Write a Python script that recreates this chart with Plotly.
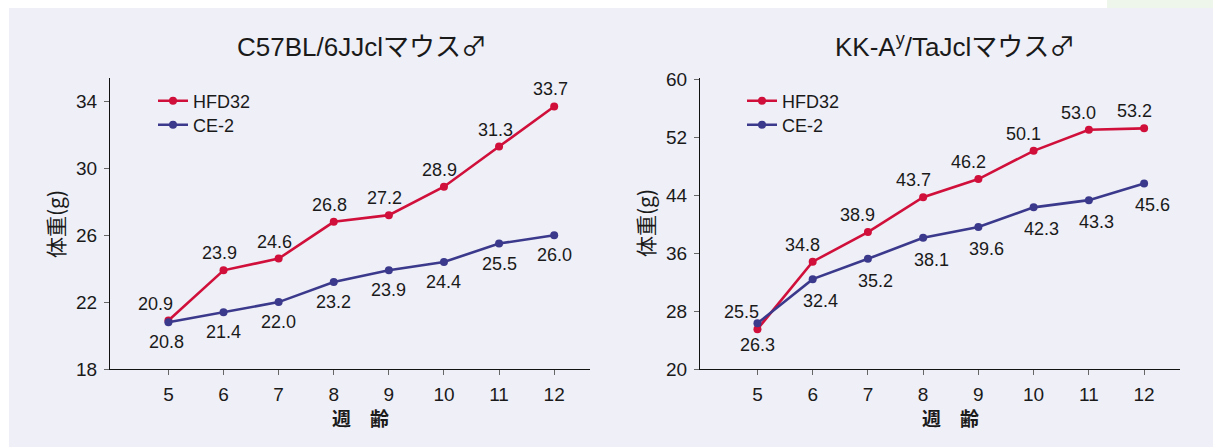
import plotly.graph_objects as go

W, H = 1213, 447

weeks = [5, 6, 7, 8, 9, 10, 11, 12]
week_ticks = ["5", "6", "7", "8", "9", "10", "11", "12"]

# C57BL/6JJcl
b6_hfd32 = [20.9, 23.9, 24.6, 26.8, 27.2, 28.9, 31.3, 33.7]
b6_ce2 = [20.8, 21.4, 22.0, 23.2, 23.9, 24.4, 25.5, 26.0]
# KK-Ay/TaJcl
kk_hfd32 = [25.5, 34.8, 38.9, 43.7, 46.2, 50.1, 53.0, 53.2]
kk_ce2 = [26.3, 32.4, 35.2, 38.1, 39.6, 42.3, 43.3, 45.6]

left_yticks = [18, 22, 26, 30, 34]
right_yticks = [20, 28, 36, 44, 52, 60]

RED = "#d0103a"
BLUE = "#3b398c"
BG = "#efeff7"
TXT = "#1a1a1a"
NUM_FONT = "Liberation Sans, Arial, sans-serif"
CJK_FONT = "Noto Sans CJK JP, Noto Sans, sans-serif"
TITLE_FONT = "Liberation Sans, Noto Sans CJK JP, sans-serif"
MALE = '<span style="font-family:Noto Sans CJK JP">♂</span>'


def px(x):
    return x / W


def py(y):
    return 1 - y / H


fig = go.Figure()

panels = [("x", "y", b6_hfd32, b6_ce2, "legend", "legend2"),
          ("x2", "y2", kk_hfd32, kk_ce2, "legend3", "legend4")]
for xa, ya, hfd, ce, leg_a, leg_b in panels:
    fig.add_trace(go.Scatter(x=weeks, y=hfd, name="HFD32", mode="lines+markers",
                             line=dict(color=RED, width=2.6), marker=dict(color=RED, size=8),
                             xaxis=xa, yaxis=ya, legend=leg_a, hoverinfo="skip"))
    fig.add_trace(go.Scatter(x=weeks, y=ce, name="CE-2", mode="lines+markers",
                             line=dict(color=BLUE, width=2.6), marker=dict(color=BLUE, size=8),
                             xaxis=xa, yaxis=ya, legend=leg_b, hoverinfo="skip"))

annotations = []


def add_labels(xref, yref, vals, yshift, xshift, first_xshift):
    for i, (w, v) in enumerate(zip(weeks, vals)):
        annotations.append(dict(x=w, y=v, xref=xref, yref=yref, text=f"{v:.1f}",
                                showarrow=False, yshift=yshift, xanchor="center",
                                xshift=first_xshift if i == 0 else xshift,
                                font=dict(family=NUM_FONT, size=18, color=TXT)))


add_labels("x", "y", b6_hfd32, 17, -4, -13)
add_labels("x", "y", b6_ce2, -20, 0, -2)
add_labels("x2", "y2", kk_hfd32, 17, -10, -16)
add_labels("x2", "y2", kk_ce2, -22, 8, 0)

# titles
annotations += [
    dict(x=px(362), y=py(45), xref="paper", yref="paper", text="C57BL/6JJclマウス" + MALE,
         xanchor="center", yanchor="middle",
         showarrow=False, font=dict(family=TITLE_FONT, size=26, color=TXT)),
    dict(x=px(955), y=py(45), xref="paper", yref="paper",
         text="KK-A<sup>y</sup>/TaJclマウス" + MALE,
         xanchor="center", yanchor="middle",
         showarrow=False, font=dict(family=TITLE_FONT, size=26, color=TXT)),
    dict(x=px(55), y=py(224), xref="paper", yref="paper", text="体重(g)", textangle=-90,
         xanchor="center", yanchor="middle",
         showarrow=False, font=dict(family=CJK_FONT, size=21, color=TXT)),
    dict(x=px(645), y=py(223), xref="paper", yref="paper", text="体重(g)", textangle=-90,
         xanchor="center", yanchor="middle",
         showarrow=False, font=dict(family=CJK_FONT, size=21, color=TXT)),
    dict(x=px(360), y=py(417), xref="paper", yref="paper", text="<b>週　齢</b>",
         xanchor="center", yanchor="middle",
         showarrow=False, font=dict(family=CJK_FONT, size=19, color=TXT)),
    dict(x=px(950), y=py(417), xref="paper", yref="paper", text="<b>週　齢</b>",
         xanchor="center", yanchor="middle",
         showarrow=False, font=dict(family=CJK_FONT, size=19, color=TXT)),
]

shapes = [
    dict(type="rect", xref="paper", yref="paper", x0=px(9), x1=1, y0=0, y1=py(8),
         fillcolor=BG, line=dict(width=0), layer="below"),
    dict(type="rect", xref="paper", yref="paper", x0=px(1107), x1=1, y0=py(8), y1=1,
         fillcolor="#eef5eb", line=dict(width=0), layer="below"),
]

ydom = [py(369), py(78)]
axis_common = dict(showline=True, linecolor="#111111", linewidth=1.3, ticks="outside",
                   ticklen=5, tickwidth=1, tickcolor="#666666", showgrid=False,
                   zeroline=False, ticklabelstandoff=3,
                   tickfont=dict(family=NUM_FONT, size=19, color=TXT))


def legend_at(x, y):
    return dict(x=px(x), y=py(y), xanchor="left", yanchor="middle", bgcolor="rgba(0,0,0,0)",
                font=dict(family=NUM_FONT, size=18, color=TXT), borderwidth=0)


fig.update_layout(
    width=W, height=H,
    margin=dict(l=0, r=0, t=0, b=0, pad=0, autoexpand=False),
    paper_bgcolor="white",
    plot_bgcolor="rgba(0,0,0,0)",
    xaxis=dict(domain=[px(110), px(590)], range=[3.94, 12.65], tickvals=weeks,
               ticktext=week_ticks, anchor="y", **axis_common),
    yaxis=dict(domain=ydom, range=[18, 35.4], tickvals=left_yticks, anchor="x", **axis_common),
    xaxis2=dict(domain=[px(700), px(1180)], range=[3.96, 12.65], tickvals=weeks,
                ticktext=week_ticks, anchor="y2", **axis_common),
    yaxis2=dict(domain=ydom, range=[20, 60.15], tickvals=right_yticks, anchor="x2", **axis_common),
    legend=legend_at(153, 101),
    legend2=legend_at(153, 125),
    legend3=legend_at(742, 101),
    legend4=legend_at(742, 125),
    annotations=annotations,
    shapes=shapes,
    showlegend=True,
)

fig.write_html("out.html")
